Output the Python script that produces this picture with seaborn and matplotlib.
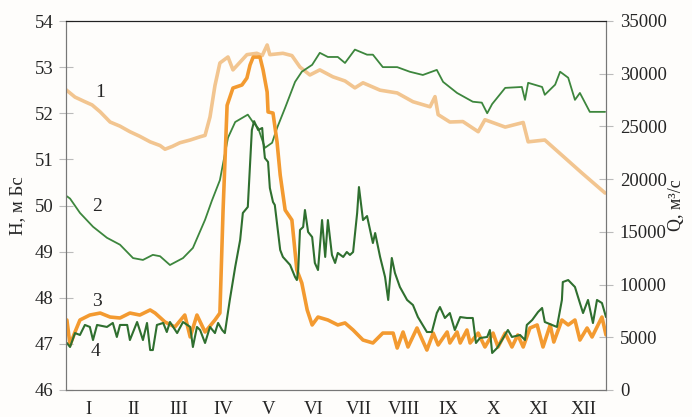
import numpy as np
import pandas as pd
import seaborn as sns
import matplotlib.pyplot as plt

months = ['I', 'II', 'III', 'IV', 'V', 'VI', 'VII', 'VIII', 'IX', 'X', 'XI', 'XII']

# line 1: level H (m), x in months from 1 Jan
x1 = [0, 0.2, 0.42, 0.58, 0.76, 0.98, 1.2, 1.42, 1.64, 1.87, 2.09, 2.2, 2.36, 2.53,
      2.76, 2.98, 3.09, 3.2, 3.31, 3.42, 3.6, 3.71, 3.87, 4.02, 4.24, 4.36, 4.47,
      4.53, 4.82, 5.02, 5.2, 5.42, 5.64, 5.93, 6.2, 6.42, 6.6, 6.98, 7.36, 7.71,
      8.09, 8.2, 8.27, 8.53, 8.82, 9.16, 9.31, 9.76, 10.16, 10.27, 10.64, 11.09,
      11.47, 11.98]
h1 = [52.51, 52.35, 52.25, 52.18, 52.03, 51.81, 51.72, 51.60, 51.50, 51.38, 51.30,
      51.22, 51.28, 51.36, 51.42, 51.49, 51.52, 51.92, 52.60, 53.09, 53.22, 52.94,
      53.11, 53.27, 53.30, 53.25, 53.48, 53.27, 53.30, 53.25, 53.00, 52.83, 52.94,
      52.79, 52.70, 52.55, 52.66, 52.50, 52.44, 52.25, 52.14, 52.36, 51.97, 51.81,
      51.82, 51.60, 51.86, 51.70, 51.80, 51.38, 51.42, 51.03, 50.70, 50.27]

# line 2: level H (m)
x2 = [0.02, 0.09, 0.31, 0.6, 0.91, 1.2, 1.49, 1.71, 1.93, 2.09, 2.31, 2.6, 2.82,
      3.09, 3.24, 3.42, 3.6, 3.76, 4.04, 4.16, 4.27, 4.42, 4.58, 4.69, 4.87, 5.09,
      5.24, 5.47, 5.64, 5.82, 6.04, 6.2, 6.42, 6.69, 6.82, 7.04, 7.36, 7.64, 7.93,
      8.24, 8.38, 8.69, 9.04, 9.24, 9.36, 9.47, 9.76, 10.13, 10.2, 10.27, 10.58,
      10.64, 10.87, 10.98, 11.16, 11.31, 11.42, 11.64, 11.98]
h2 = [50.20, 50.15, 49.84, 49.54, 49.30, 49.15, 48.86, 48.82, 48.93, 48.90, 48.71,
      48.86, 49.08, 49.69, 50.10, 50.55, 51.47, 51.81, 51.97, 51.80, 51.68, 51.25,
      51.36, 51.68, 52.12, 52.68, 52.90, 53.05, 53.31, 53.22, 53.22, 53.09, 53.38,
      53.27, 53.27, 53.00, 53.00, 52.90, 52.83, 52.94, 52.68, 52.44, 52.25, 52.23,
      52.00, 52.20, 52.55, 52.57, 52.29, 52.66, 52.57, 52.40, 52.62, 52.90, 52.77,
      52.29, 52.44, 52.03, 52.03]

# line 3: discharge Q (m3/s)
x3 = [0.02, 0.09, 0.2, 0.31, 0.53, 0.76, 0.98, 1.2, 1.42, 1.64, 1.87, 1.98, 2.2,
      2.42, 2.64, 2.76, 2.91, 3.09, 3.31, 3.42, 3.49, 3.58, 3.71, 3.91, 4.02, 4.09,
      4.16, 4.31, 4.38, 4.47, 4.49, 4.6, 4.69, 4.76, 4.87, 5.02, 5.13, 5.24, 5.36,
      5.47, 5.6, 5.82, 6.04, 6.2, 6.38, 6.6, 6.82, 7.04, 7.27, 7.36, 7.49, 7.6, 7.8,
      8.02, 8.16, 8.27, 8.47, 8.53, 8.69, 8.76, 8.91, 8.98, 9.16, 9.31, 9.49, 9.6,
      9.76, 9.91, 10.04, 10.16, 10.31, 10.47, 10.6, 10.76, 10.84, 11.02, 11.16,
      11.31, 11.42, 11.58, 11.69, 11.91, 12.0]
q3 = [6640, 4270, 5500, 6640, 7110, 7300, 6920, 6830, 7300, 7110, 7590, 7300, 6450,
      5980, 7110, 5030, 7110, 5500, 6640, 7300, 17000, 27000, 28640, 28930, 29590,
      30830, 31580, 31580, 30350, 28260, 26370, 26270, 23520, 20390, 17070, 16120,
      11380, 10150, 7590, 6170, 6920, 6640, 6170, 6360, 5690, 4740, 4460, 5400,
      5400, 3980, 5500, 4080, 5880, 3790, 5400, 4270, 5500, 4460, 5500, 4460, 5690,
      4460, 5400, 4080, 5400, 4080, 5400, 4080, 5220, 4080, 5880, 6170, 4080, 6170,
      4550, 6640, 6170, 6640, 4740, 5880, 5030, 6920, 5220]

# line 4: discharge Q (m3/s)
x4 = [0.02, 0.09, 0.2, 0.31, 0.42, 0.53, 0.6, 0.69, 0.91, 1.04, 1.13, 1.2, 1.36,
      1.42, 1.58, 1.71, 1.8, 1.87, 1.93, 2.02, 2.16, 2.24, 2.31, 2.47, 2.6, 2.76,
      2.82, 2.91, 2.98, 3.09, 3.2, 3.31, 3.38, 3.47, 3.53, 3.64, 3.76, 3.87, 3.93,
      4.04, 4.13, 4.18, 4.27, 4.36, 4.38, 4.42, 4.49, 4.53, 4.6, 4.64, 4.76, 4.82,
      4.98, 5.09, 5.13, 5.16, 5.2, 5.27, 5.31, 5.38, 5.47, 5.53, 5.6, 5.69, 5.76,
      5.82, 5.91, 5.98, 6.04, 6.16, 6.24, 6.31, 6.38, 6.47, 6.51, 6.6, 6.69, 6.82,
      6.87, 6.98, 7.09, 7.16, 7.24, 7.31, 7.42, 7.58, 7.71, 7.82, 8.02, 8.13, 8.24,
      8.31, 8.42, 8.53, 8.64, 8.76, 8.91, 9.04, 9.11, 9.2, 9.36, 9.42, 9.47, 9.58,
      9.69, 9.82, 9.91, 10.09, 10.2, 10.24, 10.36, 10.49, 10.58, 10.64, 10.8, 10.91,
      11.02, 11.04, 11.16, 11.31, 11.42, 11.49, 11.6, 11.71, 11.8, 11.91, 12.0]
q4 = [4460, 4080, 5400, 5220, 6170, 5980, 4740, 6170, 5980, 6360, 5030, 6170, 6170,
      4740, 6450, 4740, 6360, 3790, 3790, 6170, 6360, 5500, 6450, 5400, 6450, 5980,
      4080, 5980, 5690, 4460, 5980, 5400, 6360, 5690, 5400, 8540, 11670, 14230,
      16790, 17360, 24660, 25500, 24660, 24850, 23710, 22000, 21630, 19160, 17830,
      17550, 13280, 12620, 11860, 10720, 10430, 11380, 15180, 15460, 17070, 14990,
      14510, 12050, 11380, 16120, 12620, 16120, 12810, 12050, 13000, 12620, 13090,
      12810, 13090, 16790, 19250, 16120, 16500, 13940, 14890, 12620, 10720, 8540,
      12520, 11100, 9770, 8540, 8060, 6920, 5500, 5500, 7300, 7870, 6830, 7300,
      5690, 6920, 6830, 6830, 4460, 4930, 5030, 5690, 3510, 3980, 4740, 5690, 5030,
      5220, 4740, 6170, 6640, 7400, 7780, 6450, 6170, 5980, 8540, 10240, 10430,
      9770, 8250, 7300, 8540, 6350, 8540, 8250, 6920]

sns.set_style('white')
plt.rcParams['font.family'] = ['Liberation Serif', 'DejaVu Serif']

fig = plt.figure(figsize=(6.92, 4.17), dpi=100)
fig.patch.set_facecolor('#fefdfb')
ax = fig.add_axes([66 / 692, 27 / 417, 540 / 692, 369 / 417])
ax.set_facecolor('#fefdfb')
ax2 = ax.twinx()

sns.lineplot(x=x1, y=h1, ax=ax, color='#f2c590', linewidth=2.6, estimator=None, sort=False)
sns.lineplot(x=x2, y=h2, ax=ax, color='#3d863d', linewidth=1.3, estimator=None, sort=False)
sns.lineplot(x=x3, y=q3, ax=ax2, color='#f39a30', linewidth=2.6, estimator=None, sort=False)
sns.lineplot(x=x4, y=q4, ax=ax2, color='#2f6f2f', linewidth=1.5, estimator=None, sort=False)

ax.set_xlim(0, 12)
ax.set_ylim(46, 54)
ax2.set_ylim(0, 35000)
ax.set_yticks(range(46, 55))
ax2.set_yticks(range(0, 35001, 5000))

ax.set_xticks(range(13))
ax.set_xticklabels([])
ax.set_xticks(np.arange(0.5, 12, 1), minor=True)
ax.set_xticklabels(months, minor=True)
ax.tick_params(axis='x', which='major', direction='in', length=6, color='#888888')
ax.tick_params(axis='x', which='minor', length=0, labelsize=13.5, pad=8)
ax.tick_params(axis='y', direction='inout', length=10, color='#bbbbbb', labelsize=13.5, pad=4)
ax2.tick_params(axis='y', direction='inout', length=10, color='#bbbbbb', labelsize=13.5, pad=5)

ax.set_ylabel('H, м Бс', fontsize=13.5, labelpad=6)
ax2.set_ylabel('Q, м³/с', fontsize=13, labelpad=1, rotation=90)

for a in (ax, ax2):
    a.spines['left'].set_color('#777777')
    a.spines['right'].set_color('#777777')
    a.spines['bottom'].set_color('#777777')
    a.spines['top'].set_color('#222222')

ax.text(0.76, 52.45, '1', fontsize=14, ha='center', va='center')
ax.text(0.69, 49.97, '2', fontsize=14, ha='center', va='center')
ax.text(0.69, 47.92, '3', fontsize=14, ha='center', va='center')
ax.text(0.65, 46.83, '4', fontsize=14, ha='center', va='center')

fig.savefig('out.png', dpi=100, facecolor=fig.get_facecolor())
